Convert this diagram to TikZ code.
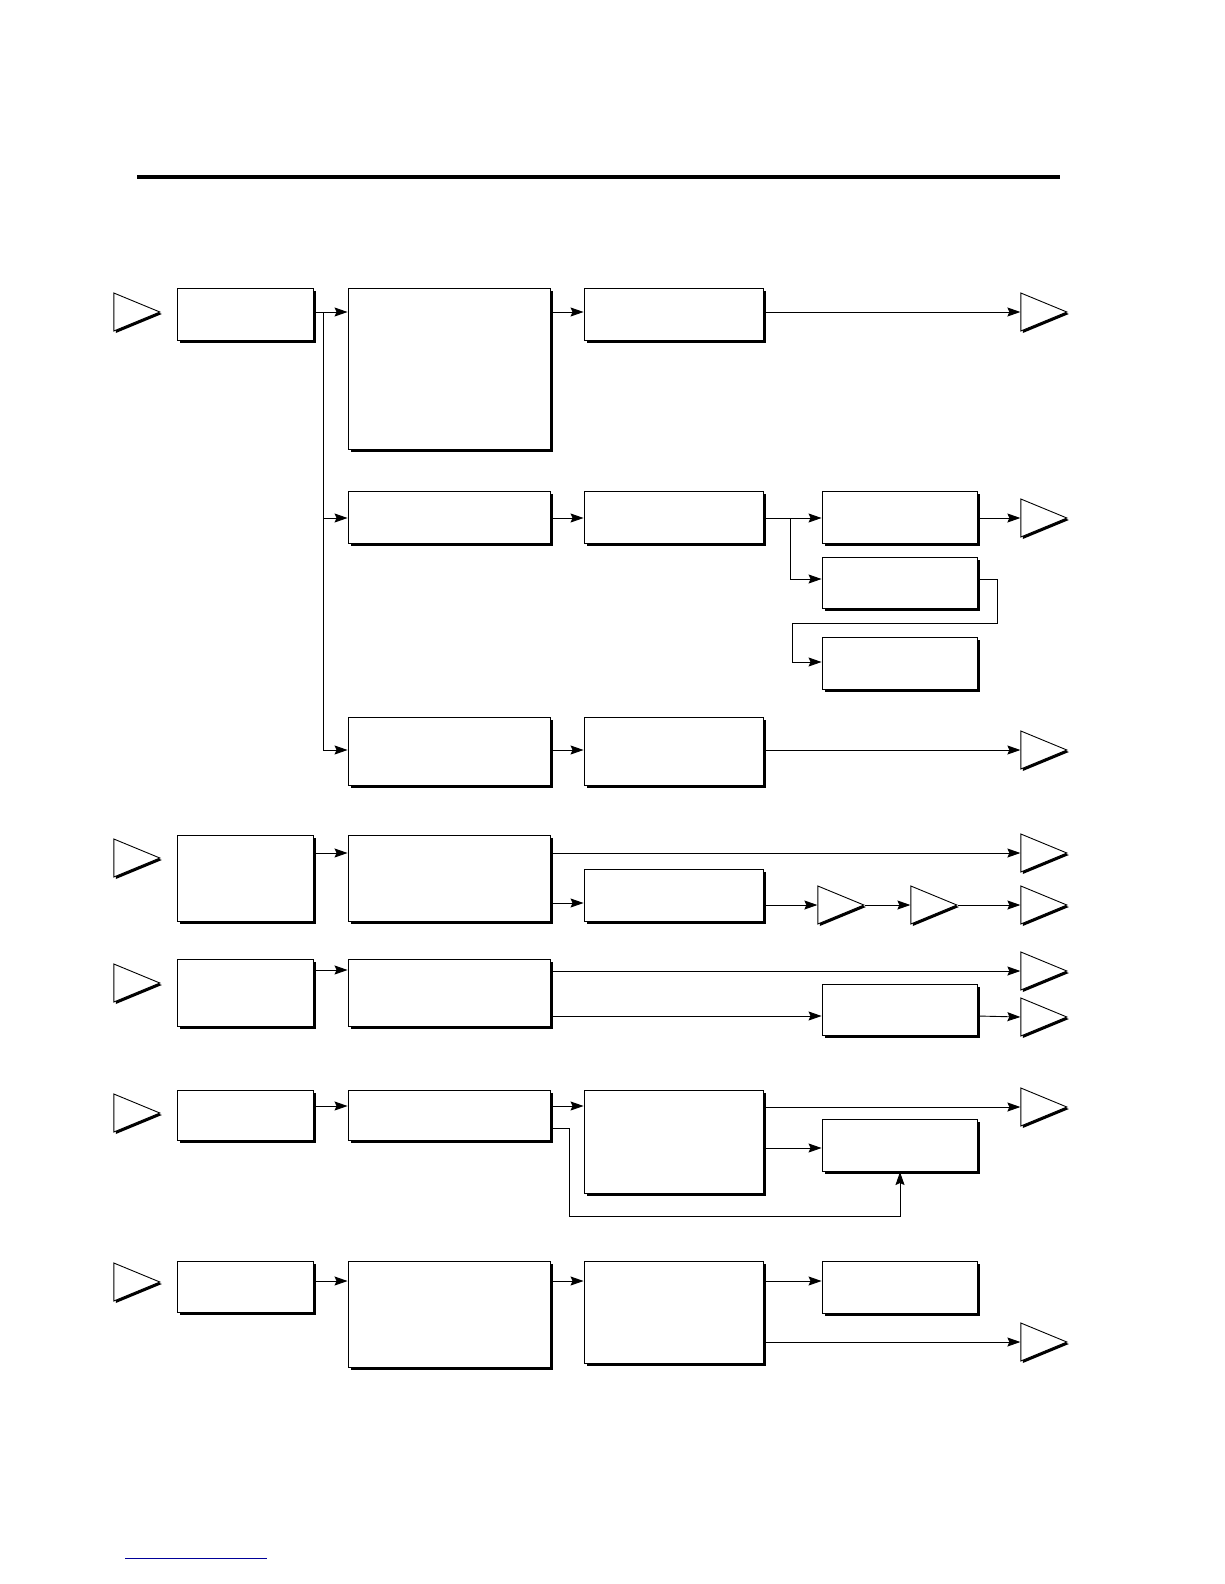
\documentclass[tikz,border=0pt]{standalone}
\usetikzlibrary{shapes.geometric,shadows,arrows.meta}
\tikzset{
 box/.style={draw,fill=white,line width=0.9pt,inner sep=0pt,drop shadow={shadow xshift=3pt,shadow yshift=-3pt,fill=black,opacity=1}},
 tri/.style={draw,fill=white,line width=0.9pt,isosceles triangle,isosceles triangle stretches,minimum height=46pt,minimum width=38pt,inner sep=0pt,anchor=apex,drop shadow={shadow xshift=2pt,shadow yshift=-2pt,fill=black,opacity=1}},
 arr/.style={-{Stealth[length=13pt,width=9pt,inset=2pt]},line width=0.9pt},
 ln/.style={line width=0.9pt}
}
\newcommand\bx[5]{\node[box,minimum width={#4-#2},minimum height={#5-#3}] (#1) at ({(#2+#4)/2},{(#3+#5)/2}) {};}
\newcommand\tr[3]{\node[tri] (#1) at (#2,#3) {};}
\begin{document}
\begin{tikzpicture}[x=1pt,y=-1pt]
\useasboundingbox (0,0) rectangle (1224,1584);
\draw[line width=4pt] (137,177) -- (1060,177);
\draw[blue!60!black,line width=0.6pt] (125,1558) -- (267,1558);
% row 1
\tr{i1}{161}{312}
\bx{A1}{177}{288}{313}{340}
\bx{B1}{348}{288}{550}{449}
\bx{C1}{584}{288}{763}{340}
\tr{o1}{1068}{312}
\bx{B2}{348}{491}{550}{543}
\bx{C2}{584}{491}{763}{543}
\bx{D2}{822}{491}{977}{543}
\bx{E2}{822}{557}{977}{608}
\bx{F2}{822}{637}{977}{689}
\tr{o2}{1068}{518}
\bx{B3}{348}{717}{550}{785}
\bx{C3}{584}{717}{763}{785}
\tr{o3}{1068}{750}
\coordinate (j1) at (323,312);
\draw[arr] (A1.east |- j1) -- (B1.west |- j1);
\draw[ln] (j1) -- (323,750);
\draw[arr] (323,518) -- (B2.west |- 0,518);
\draw[arr] (323,750) -- (B3.west |- 0,750);
\draw[arr] (B1.east |- j1) -- (C1.west |- j1);
\draw[arr] (C1.east |- j1) -- (o1.west);
\draw[arr] (B2.east |- 0,518) -- (C2.west |- 0,518);
\draw[arr] (C2.east |- 0,518) -- (D2.west |- 0,518);
\draw[arr] (790,518) |- (E2.west |- 0,579);
\draw[arr] (D2.east |- 0,518) -- (o2.west);
\draw[arr] (E2.east |- 0,579) -- (997,579) -- (997,623) -- (792,623) |- (F2.west |- 0,662);
\draw[arr] (B3.east |- 0,750) -- (C3.west |- 0,750);
\draw[arr] (C3.east |- 0,750) -- (o3.west);
% row 2
\tr{i4}{161}{858}
\bx{A4}{177}{835}{313}{921}
\bx{B4}{348}{835}{550}{921}
\bx{C4}{584}{869}{763}{921}
\tr{m4a}{865}{905}
\tr{m4b}{958}{905}
\tr{o4a}{1068}{853}
\tr{o4b}{1068}{905}
\draw[arr] (A4.east |- 0,853) -- (B4.west |- 0,853);
\draw[arr] (B4.east |- 0,853) -- (o4a.west);
\draw[arr] (B4.east |- 0,903) -- (C4.west |- 0,903);
\draw[arr] (C4.east |- 0,905) -- (m4a.west);
\draw[arr] (m4a.apex) -- (m4b.west);
\draw[arr] (m4b.apex) -- (o4b.west);
% row 3
\tr{i5}{161}{983}
\bx{A5}{177}{959}{313}{1026}
\bx{B5}{348}{959}{550}{1026}
\bx{D5}{822}{984}{977}{1035}
\tr{o5a}{1068}{971}
\tr{o5b}{1068}{1017}
\draw[arr] (A5.east |- 0,970) -- (B5.west |- 0,970);
\draw[arr] (B5.east |- 0,971) -- (o5a.west);
\draw[arr] (B5.east |- 0,1016) -- (D5.west |- 0,1016);
\draw[arr] (D5.east |- 0,1016) -- (o5b.west);
% row 4
\tr{i6}{161}{1113}
\bx{A6}{177}{1090}{313}{1140}
\bx{B6}{348}{1090}{550}{1140}
\bx{C6}{584}{1090}{763}{1193}
\bx{D6}{822}{1119}{977}{1171}
\tr{o6}{1068}{1107}
\draw[arr] (A6.east |- 0,1106) -- (B6.west |- 0,1106);
\draw[arr] (B6.east |- 0,1106) -- (C6.west |- 0,1106);
\draw[arr] (C6.east |- 0,1107) -- (o6.west);
\draw[arr] (C6.east |- 0,1148) -- (D6.west |- 0,1148);
\draw[arr] (B6.east |- 0,1128) -- (569,1128) -- (569,1216) -- (900,1216) -- (900,1172);
% row 5
\tr{i7}{161}{1282}
\bx{A7}{177}{1261}{313}{1312}
\bx{B7}{348}{1261}{550}{1367}
\bx{C7}{584}{1261}{763}{1363}
\bx{D7}{822}{1261}{977}{1313}
\tr{o7}{1068}{1342}
\draw[arr] (A7.east |- 0,1281) -- (B7.west |- 0,1281);
\draw[arr] (B7.east |- 0,1281) -- (C7.west |- 0,1281);
\draw[arr] (C7.east |- 0,1281) -- (D7.west |- 0,1281);
\draw[arr] (C7.east |- 0,1342) -- (o7.west);
\end{tikzpicture}
\end{document}
